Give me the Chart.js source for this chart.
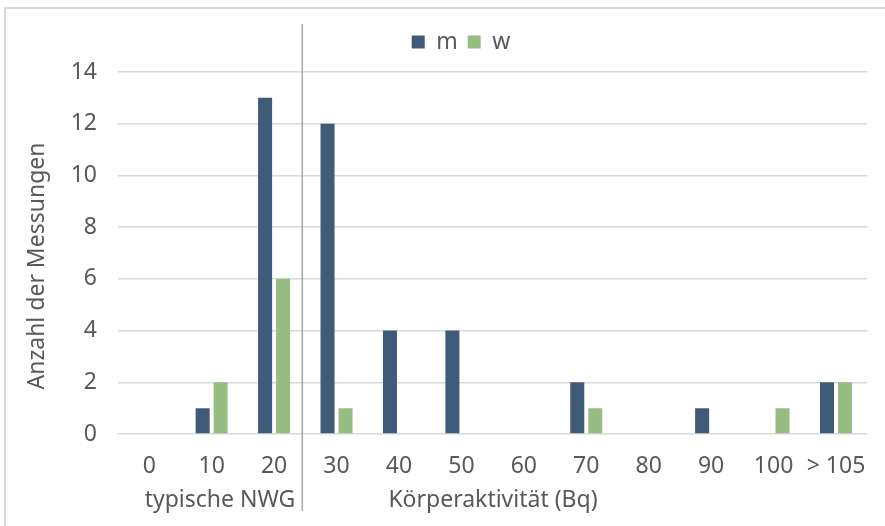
<!DOCTYPE html>
<html>
<head>
<meta charset="utf-8">
<script src="https://cdn.jsdelivr.net/npm/chart.js@4/dist/chart.umd.min.js"></script>
<style>
  html, body { margin: 0; padding: 0; background: #fff; }
  #wrap { width: 885px; height: 526px; position: relative; }
</style>
</head>
<body>
<div id="wrap"><canvas id="chart"></canvas></div>
<script>
// Kategorien (Körperaktivität in Bq)
const categories = ['0', '10', '20', '30', '40', '50', '60', '70', '80', '90', '100', '> 105'];
// Anzahl der Messungen je Geschlecht
const valuesM = [0, 1, 13, 12, 4, 4, 0, 2, 0, 1, 0, 2];
const valuesW = [0, 2, 6, 1, 0, 0, 0, 1, 0, 0, 1, 2];
const yTicks = [0, 2, 4, 6, 8, 10, 12, 14];
const groupLabels = ['typische NWG', 'Körperaktivität (Bq)'];
const yTitle = 'Anzahl der Messungen';

const FONT = '"Noto Sans", "Open Sans", sans-serif';
const GRAY = '#595959';
const FS = 23;

// etwas mehr Abstand unter der Legende
const legendGap = {
  id: 'legendGap',
  beforeLayout(chart) {
    const lg = chart.legend;
    if (lg && !lg._gapPatched) {
      const fit = lg.fit.bind(lg);
      lg.fit = function () { fit(); this.height += 8.5; };
      lg._gapPatched = true;
    }
  }
};

// Rahmen, Trennlinie und Zusatzbeschriftungen
const extras = {
  id: 'extras',
  afterDraw(chart) {
    const ctx = chart.ctx;
    const x = chart.scales.x;
    ctx.save();
    // äußerer Rahmen
    ctx.strokeStyle = '#d9d9d9';
    ctx.lineWidth = 2;
    ctx.beginPath();
    ctx.moveTo(5, 527); ctx.lineTo(5, 8); ctx.lineTo(886, 8);
    ctx.stroke();

    // Trennlinie zwischen 20 und 30
    const sep = (x.getPixelForValue(2) + x.getPixelForValue(3)) / 2 - 3;
    ctx.strokeStyle = '#a6a6a6';
    ctx.lineWidth = 1.5;
    ctx.beginPath();
    ctx.moveTo(sep, 24); ctx.lineTo(sep, 511);
    ctx.stroke();

    ctx.fillStyle = GRAY;
    ctx.font = FS + 'px ' + FONT;
    ctx.textAlign = 'center';
    ctx.textBaseline = 'middle';
    ctx.fillText(groupLabels[0], 220, 500);
    ctx.fillText(groupLabels[1], 493, 500);

    ctx.translate(37, 266);
    ctx.rotate(-Math.PI / 2);
    ctx.fillText(yTitle, 0, 0);
    ctx.restore();
  }
};

new Chart(document.getElementById('chart'), {
  type: 'bar',
  data: {
    labels: categories,
    datasets: [
      { label: 'm', data: valuesM, backgroundColor: '#3f5b78' },
      { label: 'w', data: valuesW, backgroundColor: '#97bd83' }
    ]
  },
  options: {
    responsive: true,
    maintainAspectRatio: false,
    animation: false,
    layout: { padding: { top: 20.5, left: 54, right: 17, bottom: 0 } },
    datasets: { bar: { categoryPercentage: 0.576, barPercentage: 0.78 } },
    plugins: {
      legend: {
        position: 'top',
        labels: {
          boxWidth: 13, boxHeight: 13, padding: 10,
          color: GRAY, font: { family: FONT, size: FS }
        }
      },
      tooltip: { enabled: false }
    },
    scales: {
      x: {
        grid: { display: false, drawTicks: false },
        border: { display: false },
        ticks: { color: GRAY, font: { family: FONT, size: FS }, padding: 19, maxRotation: 0 },
        afterFit(scale) { scale.height = 92; }
      },
      y: {
        min: 0,
        max: 14,
        afterBuildTicks(scale) { scale.ticks = yTicks.map(v => ({ value: v })); },
        grid: { color: '#d9d9d9', lineWidth: 1.5, drawTicks: false },
        border: { display: false },
        ticks: { color: GRAY, font: { family: FONT, size: FS }, padding: 21 },
        afterFit(scale) { scale.width = 64; }
      }
    }
  },
  plugins: [legendGap, extras]
});
</script>
</body>
</html>
